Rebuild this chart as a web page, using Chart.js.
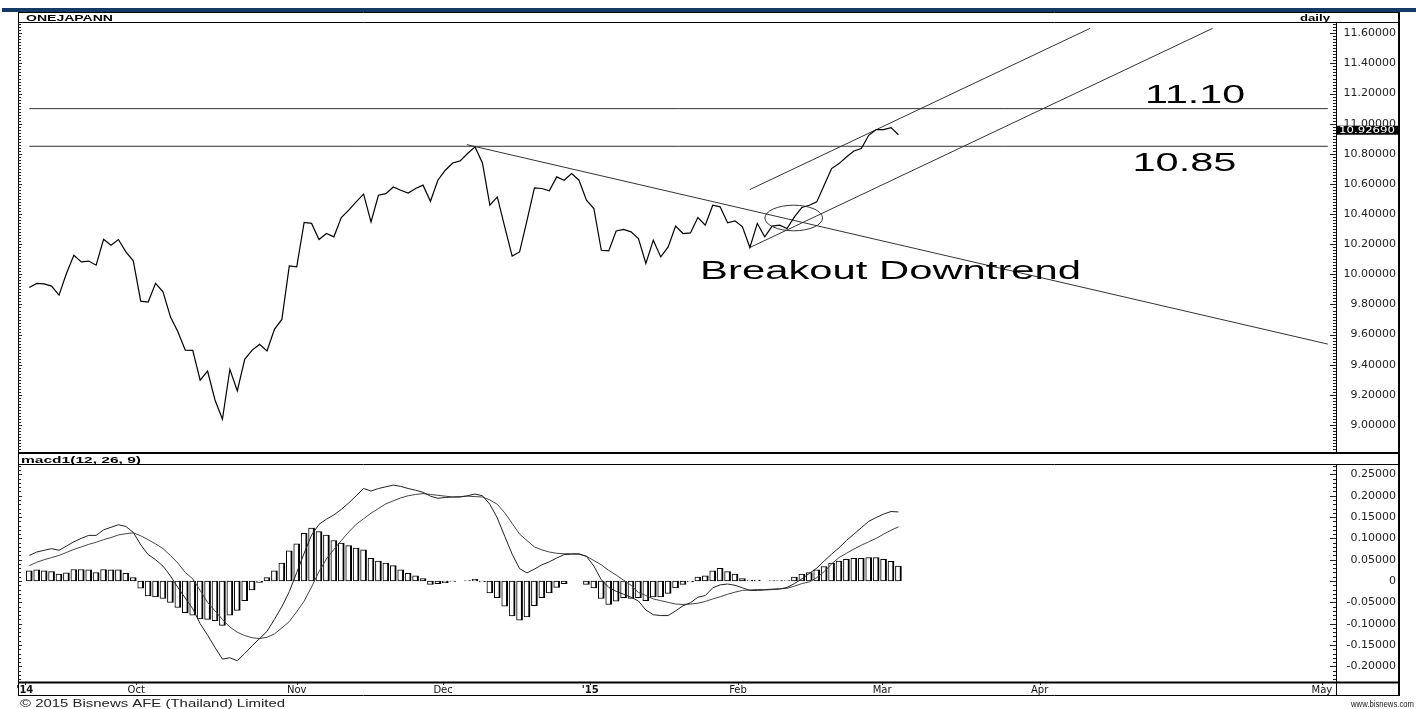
<!DOCTYPE html>
<html>
<head>
<meta charset="utf-8">
<title>ONEJAPANN daily</title>
<script src="https://cdn.jsdelivr.net/npm/chart.js@4.4.1/dist/chart.umd.min.js"></script>
<style>
  body { margin: 0; background: #fff; }
  #page { position: relative; width: 1416px; height: 709px; overflow: hidden; background: #fff; }
  .panel { position: absolute; left: 0; width: 1416px; }
  #pricePanel { top: 0; height: 454px; }
  #macdPanel { top: 454px; height: 255px; }
</style>
</head>
<body>
<div id="page">
  <div class="panel" id="pricePanel"><canvas id="priceChart"></canvas></div>
  <div class="panel" id="macdPanel"><canvas id="macdChart"></canvas></div>
</div>
<script>
//  Values, one entry per trading day
const priceValues = [
  9.913, 9.940, 9.937, 9.922, 9.862, 10.006, 10.127, 10.083, 10.088, 10.061,
  10.233, 10.194, 10.231, 10.149, 10.090, 9.822, 9.816, 9.940, 9.884, 9.718,
  9.619, 9.497, 9.495, 9.298, 9.358, 9.166, 9.038, 9.369, 9.227, 9.436,
  9.497, 9.535, 9.491, 9.635, 9.701, 10.056, 10.050, 10.344, 10.338, 10.231,
  10.271, 10.249, 10.377, 10.426, 10.481, 10.532, 10.348, 10.525, 10.536, 10.580,
  10.558, 10.540, 10.570, 10.592, 10.485, 10.625, 10.691, 10.739, 10.753, 10.802,
  10.846, 10.739, 10.459, 10.514, 10.315, 10.121, 10.149, 10.359, 10.574, 10.570,
  10.554, 10.647, 10.625, 10.669, 10.625, 10.492, 10.437, 10.160, 10.156, 10.288,
  10.298, 10.282, 10.238, 10.072, 10.227, 10.116, 10.182, 10.320, 10.271, 10.275,
  10.377, 10.326, 10.459, 10.448, 10.342, 10.355, 10.315, 10.178, 10.338, 10.249,
  10.320, 10.326, 10.304, 10.381, 10.444, 10.459, 10.481, 10.592, 10.702, 10.735,
  10.779, 10.819, 10.835, 10.923, 10.961, 10.961, 10.974, 10.9269
];

const macdValues = [
  0.060, 0.068, 0.072, 0.076, 0.072, 0.082, 0.092, 0.100, 0.107, 0.107,
  0.120, 0.126, 0.132, 0.128, 0.114, 0.085, 0.062, 0.050, 0.035, 0.012,
  -0.015, -0.040, -0.065, -0.100, -0.127, -0.156, -0.183, -0.180, -0.187, -0.170,
  -0.152, -0.135, -0.118, -0.090, -0.060, -0.025, 0.020, 0.065, 0.108, 0.133,
  0.145, 0.155, 0.168, 0.183, 0.200, 0.217, 0.211, 0.217, 0.221, 0.225,
  0.222, 0.217, 0.213, 0.208, 0.199, 0.194, 0.196, 0.197, 0.197, 0.200,
  0.204, 0.200, 0.180, 0.148, 0.105, 0.063, 0.029, 0.019, 0.028, 0.038,
  0.045, 0.054, 0.062, 0.063, 0.063, 0.058, 0.035, 0.003, -0.015, -0.024,
  -0.031, -0.038, -0.047, -0.068, -0.079, -0.081, -0.081, -0.070, -0.058, -0.051,
  -0.038, -0.034, -0.016, -0.009, -0.007, -0.010, -0.016, -0.022, -0.022, -0.021,
  -0.020, -0.019, -0.015, -0.006, 0.005, 0.018, 0.030, 0.047, 0.063, 0.078,
  0.095, 0.110, 0.125, 0.140, 0.149, 0.157, 0.163, 0.162
];

const signalValues = [
  0.036, 0.044, 0.050, 0.055, 0.060, 0.067, 0.074, 0.080, 0.086, 0.091,
  0.097, 0.102, 0.108, 0.111, 0.113, 0.106, 0.097, 0.087, 0.076, 0.060,
  0.042, 0.020, 0.005, -0.022, -0.050, -0.070, -0.090, -0.108, -0.120, -0.128,
  -0.133, -0.135, -0.132, -0.124, -0.110, -0.095, -0.072, -0.047, -0.014, 0.022,
  0.052, 0.074, 0.095, 0.115, 0.133, 0.146, 0.159, 0.170, 0.181, 0.188,
  0.195, 0.200, 0.203, 0.205, 0.203, 0.201, 0.199, 0.197, 0.198, 0.199,
  0.198, 0.197, 0.190, 0.180, 0.160, 0.135, 0.110, 0.095, 0.080, 0.073,
  0.068, 0.065, 0.064, 0.064, 0.064, 0.058, 0.048, 0.038, 0.025, 0.014,
  0.002, -0.010, -0.027, -0.034, -0.042, -0.046, -0.050, -0.054, -0.055, -0.054,
  -0.052, -0.048, -0.042, -0.037, -0.031, -0.026, -0.022, -0.021, -0.020, -0.020,
  -0.019, -0.018, -0.017, -0.012, -0.006, -0.002, 0.008, 0.022, 0.040, 0.055,
  0.065, 0.075, 0.084, 0.092, 0.100, 0.110, 0.119, 0.127
];

const histValues = [
  0.024, 0.026, 0.024, 0.022, 0.016, 0.019, 0.027, 0.027, 0.026, 0.020,
  0.027, 0.026, 0.026, 0.018, 0.008, -0.017, -0.035, -0.037, -0.041, -0.050,
  -0.062, -0.074, -0.080, -0.089, -0.090, -0.093, -0.104, -0.080, -0.069, -0.046,
  -0.021, -0.003, 0.008, 0.024, 0.042, 0.071, 0.087, 0.112, 0.124, 0.116,
  0.108, 0.095, 0.089, 0.083, 0.077, 0.073, 0.053, 0.047, 0.042, 0.036,
  0.026, 0.018, 0.012, 0.006, -0.008, -0.006, -0.004, -0.001, null, 0.001,
  0.004, -0.002, -0.028, -0.039, -0.059, -0.082, -0.092, -0.084, -0.058, -0.039,
  -0.028, -0.015, -0.006, null, null, -0.008, -0.016, -0.041, -0.055, -0.047,
  -0.039, -0.041, -0.039, -0.046, -0.037, -0.037, -0.029, -0.016, -0.008, -0.002,
  0.009, 0.012, 0.024, 0.030, 0.022, 0.016, 0.006, 0.002, 0.002, null,
  0.001, 0.001, 0.001, 0.009, 0.016, 0.020, 0.026, 0.034, 0.042, 0.047,
  0.051, 0.053, 0.053, 0.055, 0.055, 0.051, 0.046, 0.035
];

//  Axis ticks
const priceTicks = [9.0, 9.2, 9.4, 9.6, 9.8, 10.0, 10.2, 10.4, 10.6, 10.8, 11.0, 11.2, 11.4, 11.6];
const macdTicks = [-0.2, -0.15, -0.1, -0.05, 0, 0.05, 0.1, 0.15, 0.2, 0.25];
const monthLabels = ["'14", 'Oct', 'Nov', 'Dec', "'15", 'Feb', 'Mar', 'Apr', 'May'];
const monthTicks = [-0.6, 14.4, 36.0, 55.7, 75.5, 95.4, 114.8, 136.0, 174.0];

//  Hand-drawn analysis (day index, price)
const levelValues = [11.10, 10.85];
const levelRange = [0, 174.8];
const downTrend = [[58.9, 10.861], [174.8, 9.537]];
const channelLow = [[97, 10.178], [159.3, 11.633]];
const channelHigh = [[97, 10.563], [142.8, 11.633]];
const breakoutAt = [102.9, 10.374];
const noteLabels = ['11.10', '10.85', 'Breakout Downtrend'];
const noteAnchors = [[150.2, 11.137], [148.5, 10.686], [90.3, 9.972]];
const lastPrice = 10.9269;

const xRange = [-1.52, 175.9];
const priceRange = [8.8208, 11.6684];
const macdRange = [-0.2368, 0.2721];

const ARIAL = 'Arial, "Liberation Sans", sans-serif';
const DEJAVU = '"DejaVu Sans", sans-serif';
const AXIS_BOX = 64;     // width of the value column right of the plot

//******************************************************************************
//  helpers
//******************************************************************************
function line(ctx, x1, y1, x2, y2) {
  ctx.beginPath();
  ctx.moveTo(x1, y1);
  ctx.lineTo(x2, y2);
  ctx.stroke();
}

//  draws text squeezed/stretched horizontally to a given width
function fitText(ctx, text, x, y, font, width, align) {
  ctx.font = font;
  const natural = ctx.measureText(text).width;
  ctx.save();
  ctx.translate(align === 'right' ? x - width : x, y);
  ctx.scale(width / natural, 1);
  ctx.textAlign = 'left';
  ctx.textBaseline = 'alphabetic';
  ctx.fillText(text, 0, 0);
  ctx.restore();
}

//  keep the tick label overhang out of the layout
function noOverhang(s) {
  s.paddingTop = 0;
  s.paddingBottom = 0;
  s.paddingLeft = 0;
  s.paddingRight = 0;
}

//  small ladder ticks on both sides of a panel
function edgeTicks(chart, step, majorEvery) {
  const ctx = chart.ctx, area = chart.chartArea, y = chart.scales.y;
  ctx.strokeStyle = '#222';
  ctx.lineWidth = 1;
  const first = Math.ceil(y.min / step + 1e-6), last = Math.floor(y.max / step - 1e-6);
  for (let k = first; k <= last; k++) {
    const py = Math.round(y.getPixelForValue(k * step)) + 0.5;
    const major = k % majorEvery === 0;
    line(ctx, area.right - (major ? 6 : 3), py, area.right, py);
    line(ctx, area.left, py, area.left + (major ? 4 : 3), py);
  }
}

function panelFrame(chart, top, bottom) {
  const ctx = chart.ctx, area = chart.chartArea;
  ctx.strokeStyle = '#000';
  ctx.lineWidth = 1;
  line(ctx, area.left + 0.5, top, area.left + 0.5, bottom);
  line(ctx, area.right + 0.5, area.top, area.right + 0.5, bottom);
  ctx.lineWidth = 2;
  line(ctx, area.right + AXIS_BOX - 1, top, area.right + AXIS_BOX - 1, bottom);
}

//******************************************************************************
//  price panel decorations
//******************************************************************************
const priceDecor = {
  id: 'priceDecor',
  afterDatasetsDraw(chart) {
    const ctx = chart.ctx, x = chart.scales.x, y = chart.scales.y;
    ctx.save();
    // ring round the breakout
    const cx = x.getPixelForValue(breakoutAt[0]);
    const cy = y.getPixelForValue(breakoutAt[1]);
    const rx = x.getPixelForValue(breakoutAt[0] + 3.88) - cx;
    const ry = y.getPixelForValue(breakoutAt[1] - 0.085) - cy;
    ctx.strokeStyle = '#333';
    ctx.lineWidth = 1;
    ctx.beginPath();
    ctx.ellipse(cx, cy, rx, ry, 0, 0, Math.PI * 2);
    ctx.stroke();

    ctx.fillStyle = '#000';
    const widths = [100, 104, 381];
    noteLabels.forEach((t, i) => {
      fitText(ctx, t, x.getPixelForValue(noteAnchors[i][0]), y.getPixelForValue(noteAnchors[i][1]),
              '26px ' + ARIAL, widths[i]);
    });
    ctx.restore();
  },
  afterDraw(chart) {
    const ctx = chart.ctx, area = chart.chartArea, y = chart.scales.y;
    const edge = area.right + AXIS_BOX;
    ctx.save();
    // navy band across the top
    ctx.fillStyle = '#163a66';
    ctx.fillRect(2, 8, 1414, 4);

    // header strip
    ctx.strokeStyle = '#000';
    ctx.lineWidth = 1;
    line(ctx, area.left, 12.5, edge, 12.5);
    line(ctx, area.left, area.top - 0.5, edge, area.top - 0.5);
    ctx.fillStyle = '#000';
    fitText(ctx, 'ONEJAPANN', 26, 20.5, 'bold 9px ' + ARIAL, 87);
    fitText(ctx, 'daily', 1330, 20.5, 'bold 9px ' + ARIAL, 30, 'right');

    panelFrame(chart, 12, chart.height);
    ctx.lineWidth = 2;
    ctx.strokeStyle = '#000';
    line(ctx, area.left, area.bottom + 1, edge, area.bottom + 1);

    edgeTicks(chart, 0.02, 10);

    // last price box
    const py = y.getPixelForValue(lastPrice);
    ctx.fillStyle = '#000';
    ctx.fillRect(area.right + 1, py - 9, 61, 9);
    ctx.fillStyle = '#fff';
    fitText(ctx, lastPrice.toFixed(5), area.right + 3, py - 1.5, '9px ' + DEJAVU, 56);
    ctx.restore();
  }
};

//******************************************************************************
//  macd panel decorations
//******************************************************************************
const macdDecor = {
  id: 'macdDecor',
  afterDraw(chart) {
    const ctx = chart.ctx, area = chart.chartArea;
    const edge = area.right + AXIS_BOX;
    const bandBottom = area.bottom + 13;
    ctx.save();
    ctx.fillStyle = '#000';
    fitText(ctx, 'macd1(12, 26, 9)', 21, 9, 'bold 9px ' + ARIAL, 120);

    ctx.strokeStyle = '#000';
    ctx.lineWidth = 1;
    line(ctx, area.left, area.top - 0.5, edge, area.top - 0.5);
    line(ctx, area.left, bandBottom + 0.5, edge, bandBottom + 0.5);
    ctx.lineWidth = 2;
    line(ctx, area.left, area.bottom + 0.5, edge, area.bottom + 0.5);
    ctx.lineWidth = 1;
    line(ctx, area.left + 0.5, 0, area.left + 0.5, bandBottom);
    line(ctx, area.right + 0.5, area.top, area.right + 0.5, bandBottom);
    ctx.lineWidth = 2;
    line(ctx, edge - 1, 0, edge - 1, bandBottom + 1);

    edgeTicks(chart, 0.01, 5);

    // month marks on the date band
    const x = chart.scales.x;
    ctx.lineWidth = 1;
    monthTicks.forEach(v => {
      const px = Math.round(x.getPixelForValue(v)) + 0.5;
      line(ctx, px, area.bottom + 1, px, area.bottom + 3);
    });

    ctx.fillStyle = '#222';
    fitText(ctx, '\u00a9 2015 Bisnews AFE (Thailand) Limited', 20, 253, '11px ' + ARIAL, 265);
    fitText(ctx, 'www.bisnews.com', 1414, 253, '9px ' + ARIAL, 63, 'right');
    ctx.restore();
  }
};

//  value axis on the right: labels right-aligned 4px inside the column
function valueAxis(range, tickValues, format) {
  return {
    position: 'right',
    min: range[0],
    max: range[1],
    grid: { display: false, drawTicks: false },
    border: { display: false },
    afterBuildTicks: s => { s.ticks = tickValues.map(v => ({ value: v })); },
    afterFit: s => { s.width = AXIS_BOX - 4; noOverhang(s); },
    ticks: {
      padding: 2,
      crossAlign: 'far',
      color: '#222',
      font: { family: 'DejaVu Sans', size: 11 },
      callback: format
    }
  };
}

//******************************************************************************
//  price chart
//******************************************************************************
const thinLine = { borderColor: '#333', borderWidth: 1, pointRadius: 0, order: 1 };
const priceChart = new Chart(document.getElementById('priceChart'), {
  type: 'line',
  data: {
    datasets: [
      { data: priceValues.map((v, i) => ({ x: i, y: v })), borderColor: '#000', borderWidth: 1.2, pointRadius: 0, order: 0 },
      ...levelValues.map(v => Object.assign({ data: levelRange.map(d => ({ x: d, y: v })) }, thinLine)),
      ...[downTrend, channelLow, channelHigh].map(seg => Object.assign({ data: seg.map(p => ({ x: p[0], y: p[1] })) }, thinLine))
    ]
  },
  options: {
    responsive: true,
    maintainAspectRatio: false,
    animation: false,
    events: [],
    layout: { padding: { left: 18, top: 23, right: 20, bottom: 2 } },
    plugins: { legend: { display: false }, tooltip: { enabled: false } },
    scales: {
      x: { type: 'linear', min: xRange[0], max: xRange[1], display: false, offset: false },
      y: valueAxis(priceRange, priceTicks, v => Number(v).toFixed(5))
    }
  },
  plugins: [priceDecor]
});

//******************************************************************************
//  macd chart
//******************************************************************************
const macdChart = new Chart(document.getElementById('macdChart'), {
  type: 'bar',
  data: {
    datasets: [
      { type: 'line', data: macdValues.map((v, i) => ({ x: i, y: v })), borderColor: '#222', borderWidth: 1, pointRadius: 0, order: 0 },
      { type: 'line', data: signalValues.map((v, i) => ({ x: i, y: v })), borderColor: '#444', borderWidth: 1, pointRadius: 0, order: 0 },
      { type: 'bar', data: histValues.map((v, i) => ({ x: i, y: v })), backgroundColor: '#fff', borderColor: '#000',
        borderWidth: { left: 1, right: 2, top: 1, bottom: 1 }, borderSkipped: false, barThickness: 6, order: 1 }
    ]
  },
  options: {
    responsive: true,
    maintainAspectRatio: false,
    animation: false,
    events: [],
    layout: { padding: { left: 18, top: 11, right: 20, bottom: 14 } },
    plugins: { legend: { display: false }, tooltip: { enabled: false } },
    scales: {
      x: {
        type: 'linear',
        position: 'bottom',
        min: xRange[0],
        max: xRange[1],
        offset: false,
        grid: { display: false, drawTicks: false, offset: false },
        border: { display: false },
        afterBuildTicks: s => { s.ticks = monthTicks.map(v => ({ value: v })); },
        afterFit: s => { s.height = 13; noOverhang(s); },
        ticks: {
          autoSkip: false,
          maxRotation: 0,
          padding: 2,
          color: '#111',
          font: c => ({ family: 'DejaVu Sans', size: 10,
                        weight: String(monthLabels[c.index] || '').startsWith("'") ? 'bold' : 'normal' }),
          callback: (v, i) => monthLabels[i]
        }
      },
      y: valueAxis(macdRange, macdTicks, v => (Math.abs(v) < 1e-9 ? '0' : Number(v).toFixed(5)))
    }
  },
  plugins: [macdDecor]
});
</script>
</body>
</html>
